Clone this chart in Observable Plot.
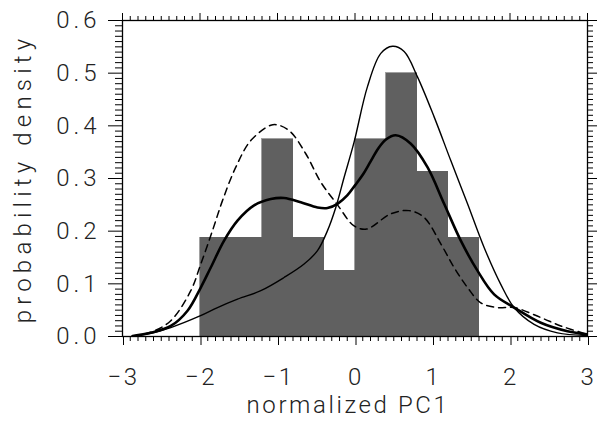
<!DOCTYPE html>
<html><head><meta charset="utf-8">
<script src="https://cdn.jsdelivr.net/npm/d3@7"></script>
<script src="https://cdn.jsdelivr.net/npm/@observablehq/plot@0.6"></script>
<style>
body{margin:0;background:#fff}
svg text{font-family:Roboto, "DejaVu Sans", sans-serif;font-weight:300}
</style>
</head><body><div id="chart"></div>
<script>
const binEdges = [-2.0, -1.6, -1.2, -0.8, -0.4, 0.0, 0.4, 0.8, 1.2, 1.6];
const binDensity = [0.1875, 0.1875, 0.375, 0.1875, 0.125, 0.375, 0.5, 0.3125, 0.1875];

const thinCurve = [[-2.87,0.001],[-2.635,0.006],[-2.377,0.017],[-2.0,0.039],[-1.774,0.055],[-1.516,0.071],[-1.215,0.087],[-0.915,0.112],[-0.657,0.1375],[-0.484,0.163],[-0.355,0.201],[-0.248,0.245],[-0.141,0.302],[-0.012,0.369],[0.16,0.474],[0.333,0.5375],[0.484,0.551],[0.634,0.541],[0.806,0.493],[1.021,0.417],[1.236,0.334],[1.452,0.252],[1.666,0.169],[1.881,0.099],[2.053,0.055],[2.311,0.023],[2.613,0.007],[3.0,0.002]];

const thickCurve = [[-2.87,0.001],[-2.635,0.007],[-2.377,0.02],[-2.161,0.049],[-1.99,0.093],[-1.861,0.131],[-1.689,0.182],[-1.516,0.22],[-1.302,0.249],[-1.087,0.261],[-0.915,0.263],[-0.7,0.255],[-0.484,0.245],[-0.355,0.244],[-0.226,0.252],[-0.1,0.268],[0.0,0.287],[0.1,0.307],[0.2,0.332],[0.3,0.357],[0.4,0.374],[0.526,0.382],[0.72,0.366],[0.935,0.3215],[1.15,0.252],[1.365,0.182],[1.58,0.125],[1.795,0.08],[2.053,0.055],[2.397,0.026],[2.742,0.01],[3.0,0.004]];

const dashedCurve = [[-2.87,0.001],[-2.635,0.008],[-2.377,0.03],[-2.119,0.087],[-1.99,0.1375],[-1.839,0.201],[-1.71,0.258],[-1.538,0.3215],[-1.345,0.372],[-1.087,0.401],[-0.98,0.401],[-0.828,0.388],[-0.635,0.347],[-0.441,0.293],[-0.226,0.25],[-0.012,0.21],[0.15,0.204],[0.462,0.233],[0.698,0.239],[0.892,0.226],[1.107,0.176],[1.279,0.131],[1.452,0.093],[1.623,0.064],[1.839,0.055],[2.053,0.055],[2.397,0.036],[2.656,0.02],[3.0,0.004]];

const xTicks = [-3, -2, -1, 0, 1, 2, 3];
const xTickLabels = ["\u22123", "\u22122", "\u22121", "0", "1", "2", "3"];
const yTicks = [0, 0.1, 0.2, 0.3, 0.4, 0.5, 0.6];
const yTickLabels = ["0.0", "0.1", "0.2", "0.3", "0.4", "0.5", "0.6"];
const xLabel = "normalized PC1";
const yLabel = "probability density";

const bins = binDensity.map((d, i) => ({x1: binEdges[i], x2: binEdges[i + 1], y: d}));
const xMinor = d3.range(-30, 31).filter(i => i % 10 !== 0).map(i => i / 10);
const yMinor = d3.range(0, 61).filter(i => i % 10 !== 0).map(i => i / 100);
const none = () => "";

const chart = Plot.plot({
  width: 597, height: 424,
  marginLeft: 122, marginRight: 10, marginTop: 20, marginBottom: 88,
  x: {domain: [-3, 3]},
  y: {domain: [0, 0.6]},
  marks: [
    Plot.rectY(bins, {x1: "x1", x2: "x2", y: "y", fill: "#606060", stroke: "#606060", strokeWidth: 0.6, inset: 0}),
    Plot.line(thinCurve, {x: d => d[0], y: d => d[1], curve: "catmull-rom", stroke: "black", strokeWidth: 1.4, clip: true}),
    Plot.line(thickCurve, {x: d => d[0], y: d => d[1], curve: "catmull-rom", stroke: "black", strokeWidth: 2.6, clip: true}),
    Plot.line(dashedCurve, {x: d => d[0], y: d => d[1], curve: "catmull-rom", stroke: "black", strokeWidth: 1.5, strokeDasharray: "7,5", clip: true}),
    Plot.frame({stroke: "black", strokeWidth: 1.3}),
    Plot.axisX({anchor: "bottom", ticks: xTicks, tickSize: 9, tickPadding: 22, tickFormat: d => xTickLabels[xTicks.indexOf(d)], fontSize: 24, fill: "#222", label: null, dx: 1}),
    Plot.axisX({anchor: "bottom", ticks: xMinor, tickSize: 5, tickFormat: none, label: null}),
    Plot.axisX({anchor: "top", ticks: xTicks, tickSize: 8, tickFormat: none, label: null}),
    Plot.axisX({anchor: "top", ticks: xMinor, tickSize: 5, tickFormat: none, label: null}),
    Plot.axisY({anchor: "left", ticks: yTicks, tickSize: 14, tickPadding: 8, tickFormat: d => yTickLabels[yTicks.indexOf(d)], fontSize: 24, fill: "#222", label: null}),
    Plot.axisY({anchor: "left", ticks: yMinor, tickSize: 7, tickFormat: none, label: null}),
    Plot.axisY({anchor: "right", ticks: yTicks, tickSize: 9, tickFormat: none, label: null}),
    Plot.axisY({anchor: "right", ticks: yMinor, tickSize: 5, tickFormat: none, label: null}),
    Plot.text([xLabel], {frameAnchor: "bottom", dy: 69, dx: -7, textAnchor: "middle", lineAnchor: "middle", fontSize: 24, fill: "#222"}),
    Plot.text([yLabel], {frameAnchor: "left", dx: -99, rotate: -90, textAnchor: "middle", lineAnchor: "middle", fontSize: 24, fill: "#222"})
  ]
});
const sel = d3.select(chart);
sel.selectAll("g[aria-label='x-axis tick label'] text").style("letter-spacing", "2.5px");
sel.selectAll("g[aria-label='y-axis tick label'] text").style("letter-spacing", "4px");
sel.selectAll("g[aria-label='text'] text").each(function() {
  const t = this.textContent;
  if (t === xLabel) d3.select(this).style("letter-spacing", "2.6px");
  if (t === yLabel) d3.select(this).style("letter-spacing", "5.2px");
});
sel.selectAll("g[aria-label='rect'] rect").attr("shape-rendering", "crispEdges");
document.getElementById("chart").appendChild(chart);
</script>
</body></html>
